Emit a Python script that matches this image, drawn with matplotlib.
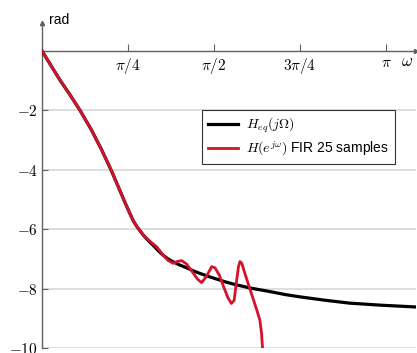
import numpy as np
import matplotlib
matplotlib.use('Agg')
import matplotlib.pyplot as plt

plt.rcParams['mathtext.fontset'] = 'cm'
plt.rcParams['font.family'] = ['Liberation Sans', 'DejaVu Sans']

# phase of the equivalent analog response
w_eq = [0, 0.08, 0.164, 0.26, 0.347, 0.45, 0.545, 0.63, 0.70, 0.76, 0.80, 0.834,
        0.87, 0.925, 0.97, 1.017, 1.06, 1.108, 1.15, 1.199, 1.26, 1.321, 1.38, 1.443,
        1.52, 1.595, 1.68, 1.76, 1.90, 2.08, 2.22, 2.36, 2.58, 2.81, 3.10, 3.42]
ph_eq = [0, -0.48, -0.98, -1.5, -2.0, -2.65, -3.33, -4.0, -4.6, -5.12, -5.45, -5.72,
         -5.93, -6.2, -6.38, -6.55, -6.72, -6.88, -7.0, -7.1, -7.21, -7.30, -7.40, -7.49,
         -7.59, -7.68, -7.78, -7.86, -7.98, -8.1, -8.2, -8.28, -8.39, -8.49, -8.56, -8.62]

# phase of the 25-sample FIR approximation
w_fir = [0, 0.08, 0.164, 0.26, 0.347, 0.45, 0.545, 0.63, 0.70, 0.76, 0.80, 0.834,
         0.87, 0.925, 0.956, 1.0, 1.05, 1.093, 1.15, 1.199, 1.24, 1.276, 1.32, 1.37,
         1.42, 1.458, 1.50, 1.55, 1.58, 1.62, 1.66, 1.70, 1.73, 1.755, 1.775, 1.795,
         1.808, 1.825, 1.85, 1.88, 1.92, 1.96, 1.99, 2.005, 2.02]
ph_fir = [0, -0.48, -0.98, -1.5, -2.0, -2.65, -3.33, -4.0, -4.6, -5.12, -5.45, -5.72,
          -5.93, -6.2, -6.31, -6.45, -6.6, -6.81, -7.05, -7.15, -7.08, -7.06, -7.17, -7.42,
          -7.68, -7.80, -7.6, -7.26, -7.3, -7.55, -7.95, -8.32, -8.50, -8.40, -7.8, -7.25,
          -7.09, -7.15, -7.45, -7.8, -8.25, -8.7, -9.06, -9.5, -10.3]

xticks = [np.pi / 4, np.pi / 2, 3 * np.pi / 4, np.pi]
xlabels = [r'$\pi/4$', r'$\pi/2$', r'$3\pi/4$', r'$\pi$']
yticks = [-2, -4, -6, -8, -10]

fig = plt.figure(figsize=(4.17, 3.53), dpi=100)
ax = fig.add_axes([42 / 417, 5 / 353, 374 / 417, 325 / 353])
ax.set_xlim(0, 3.416)
ax.set_ylim(-10, 0.94)

for yv in yticks:
    ax.axhline(yv, color='#d8d8d8', lw=1.2, zorder=0)

ax.plot(w_eq, ph_eq, color='black', lw=2.3, label=r'$H_{eq}(j\Omega)$', zorder=3)
ax.plot(w_fir, ph_fir, color='#d4132b', lw=2.0,
        label=r'$H(e^{j\omega})$ FIR 25 samples', zorder=4)

axis_col = '#606060'
ax.spines['top'].set_visible(False)
ax.spines['right'].set_visible(False)
ax.spines['bottom'].set_position(('data', 0))
for s in ('left', 'bottom'):
    ax.spines[s].set_color(axis_col)
    ax.spines[s].set_linewidth(1.0)
ax.plot(1, 0, '>', color=axis_col, ms=3, transform=ax.get_yaxis_transform(), clip_on=False)
ax.plot(0, 1, '^', color=axis_col, ms=3, transform=ax.get_xaxis_transform(), clip_on=False)

ax.set_xticks(xticks)
ax.set_xticklabels(xlabels)
ax.set_yticks(yticks)
ax.set_yticklabels([r'$%d$' % v for v in yticks])
ax.tick_params(axis='x', direction='in', length=5, color=axis_col, labelsize=11, pad=4)
ax.tick_params(axis='y', direction='in', length=4, color=axis_col, labelsize=11, pad=3)
ax.text(0.975, 0.88, r'$\omega$', transform=ax.transAxes, fontsize=12, ha='center', va='center')
ax.text(0.045, 1.03, 'rad', transform=ax.transAxes, fontsize=10, ha='center', va='top')

leg = ax.legend(loc='upper left', bbox_to_anchor=(202 / 417, 1 - 110 / 353),
                bbox_transform=fig.transFigure, fontsize=10, frameon=True, fancybox=False,
                edgecolor='black', borderpad=0.4, handlelength=2.2, handletextpad=0.6,
                labelspacing=0.35, borderaxespad=0)
leg.get_frame().set_linewidth(0.8)

fig.savefig('out.png', dpi=100)
